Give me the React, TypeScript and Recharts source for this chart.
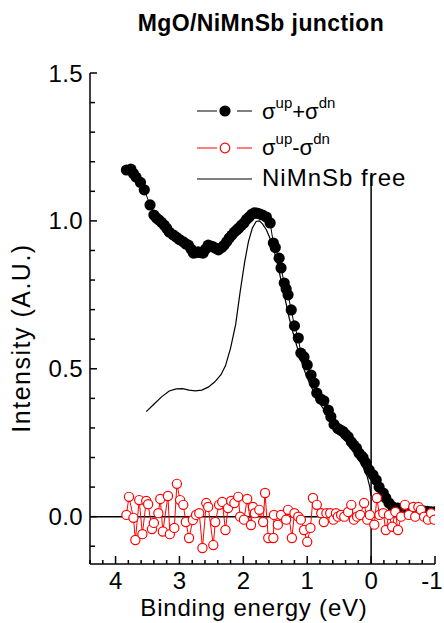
import React from 'react';
import { ScatterChart, Scatter, XAxis, YAxis, Legend } from 'recharts';

// ---- data ----
const sumData: [number, number][] = [
  [3.83, 1.172], [3.76, 1.175], [3.72, 1.16], [3.68, 1.148], [3.61, 1.13], [3.55, 1.105],
  [3.46, 1.054], [3.40, 1.02], [3.36, 1.01], [3.32, 1.003], [3.28, 0.995], [3.24, 0.986],
  [3.20, 0.975], [3.16, 0.962], [3.10, 0.953], [3.05, 0.945], [3.00, 0.937], [2.94, 0.929],
  [2.90, 0.922], [2.86, 0.918], [2.82, 0.905], [2.78, 0.891], [2.74, 0.893], [2.71, 0.895],
  [2.67, 0.893], [2.63, 0.891], [2.59, 0.905], [2.55, 0.918], [2.51, 0.915], [2.47, 0.912],
  [2.43, 0.907], [2.39, 0.902], [2.34, 0.91], [2.30, 0.918], [2.26, 0.93], [2.22, 0.942],
  [2.18, 0.952], [2.14, 0.962], [2.10, 0.97], [2.07, 0.976], [2.03, 0.985], [1.99, 0.993],
  [1.95, 1.005], [1.91, 1.013], [1.87, 1.022], [1.83, 1.027], [1.79, 1.026], [1.75, 1.024],
  [1.70, 1.02], [1.64, 1.013], [1.58, 0.993], [1.53, 0.925], [1.50, 0.91], [1.44, 0.874],
  [1.41, 0.841], [1.36, 0.79], [1.33, 0.77], [1.30, 0.75], [1.25, 0.699], [1.20, 0.645],
  [1.14, 0.604], [1.10, 0.553], [1.05, 0.54], [1.00, 0.513], [0.94, 0.479], [0.89, 0.452],
  [0.85, 0.418], [0.79, 0.398], [0.74, 0.392], [0.67, 0.36], [0.63, 0.338], [0.58, 0.312],
  [0.52, 0.298], [0.48, 0.293], [0.44, 0.288], [0.40, 0.278], [0.36, 0.27], [0.31, 0.253],
  [0.27, 0.242], [0.23, 0.232], [0.19, 0.215], [0.15, 0.205], [0.125, 0.199], [0.08, 0.182],
  [0.03, 0.158], [-0.03, 0.141], [-0.08, 0.124], [-0.125, 0.10], [-0.19, 0.08], [-0.23, 0.063],
  [-0.28, 0.046], [-0.34, 0.033], [-0.42, 0.029], [-0.47, 0.026], [-0.52, 0.023], [-0.58, 0.025],
  [-0.63, 0.026], [-0.68, 0.024], [-0.73, 0.023], [-0.78, 0.021], [-0.83, 0.019], [-0.88, 0.018],
  [-0.94, 0.016], [-1.0, 0.016],
];

const diffData: [number, number][] = [
  [3.83, 0.006], [3.79, 0.067], [3.72, -0.004], [3.69, -0.079], [3.63, 0.056], [3.58, -0.059],
  [3.52, 0.053], [3.49, 0.042], [3.43, -0.042], [3.40, -0.021], [3.33, 0.012], [3.30, 0.06],
  [3.26, -0.05], [3.18, 0.07], [3.15, -0.059], [3.08, -0.038], [3.04, 0.111], [2.99, 0.056],
  [2.94, 0.04], [2.90, -0.018], [2.85, -0.072], [2.79, -0.011], [2.74, 0.006], [2.69, 0.012],
  [2.64, -0.106], [2.58, 0.046], [2.55, 0.033], [2.47, -0.096], [2.44, -0.018], [2.38, 0.04],
  [2.33, 0.05], [2.28, -0.045], [2.24, 0.029], [2.19, 0.053], [2.14, 0.046], [2.08, 0.067],
  [2.05, 0.0], [1.99, -0.01], [1.94, 0.06], [1.88, -0.028], [1.85, 0.033], [1.82, 0.012],
  [1.75, 0.023], [1.69, -0.018], [1.66, 0.08], [1.61, -0.072], [1.53, -0.072], [1.52, 0.006],
  [1.46, -0.027], [1.41, 0.006], [1.33, -0.01], [1.30, 0.023], [1.24, -0.072], [1.20, 0.012],
  [1.14, 0.0], [1.10, -0.01], [1.05, -0.045], [1.00, -0.085], [0.95, -0.038], [0.91, 0.063],
  [0.85, 0.04], [0.78, 0.012], [0.74, -0.018], [0.70, 0.012], [0.64, 0.012], [0.59, -0.01],
  [0.55, 0.012], [0.52, 0.0], [0.47, 0.006], [0.42, 0.0], [0.36, 0.016], [0.31, 0.04],
  [0.27, -0.01], [0.22, 0.0], [0.17, 0.006], [0.11, 0.046], [0.06, -0.01], [0.02, 0.006],
  [-0.05, -0.027], [-0.09, 0.063], [-0.13, 0.006], [-0.19, 0.012], [-0.23, -0.045], [-0.28, 0.006],
  [-0.33, -0.034], [-0.38, 0.016], [-0.42, -0.045], [-0.47, 0.0], [-0.53, 0.04], [-0.59, 0.006],
  [-0.66, 0.033], [-0.69, 0.0], [-0.74, 0.033], [-0.78, 0.023], [-0.83, 0.0], [-0.89, -0.01],
  [-0.94, 0.012], [-0.99, -0.01],
];

const freeData: [number, number][] = [
  [3.52, 0.355], [3.40, 0.38], [3.28, 0.405], [3.16, 0.425], [3.05, 0.432], [2.95, 0.433],
  [2.85, 0.428], [2.75, 0.425], [2.65, 0.428], [2.55, 0.438], [2.45, 0.455], [2.35, 0.48],
  [2.28, 0.51], [2.20, 0.57], [2.12, 0.65], [2.05, 0.76], [1.98, 0.86], [1.92, 0.93],
  [1.86, 0.975], [1.80, 0.998], [1.75, 1.0], [1.70, 0.99], [1.64, 0.97], [1.58, 0.94],
  [1.52, 0.90], [1.46, 0.85], [1.40, 0.79], [1.34, 0.73], [1.28, 0.67], [1.22, 0.62],
  [1.16, 0.575], [1.10, 0.53], [1.02, 0.48], [0.94, 0.44], [0.86, 0.405], [0.78, 0.375],
  [0.70, 0.35], [0.60, 0.32], [0.50, 0.29], [0.40, 0.26], [0.30, 0.23], [0.20, 0.195],
  [0.12, 0.165], [0.06, 0.135], [0.02, 0.10], [0.0, 0.07],
];

const zeroLine: [number, number][] = [[4.4, 0], [-1, 0]];
const fermiLine: [number, number][] = [[0, -0.16], [0, 1.155]];

const xDomain = [-1, 4.4];
const yDomain = [-0.16, 1.5];
const xTicks = [4.4, 4.2, 4.0, 3.8, 3.6, 3.4, 3.2, 3.0, 2.8, 2.6, 2.4, 2.2, 2.0, 1.8, 1.6, 1.4, 1.2, 1.0,
  0.8, 0.6, 0.4, 0.2, 0.0, -0.2, -0.4, -0.6, -0.8, -1.0];
const xMajor = [4, 3, 2, 1, 0, -1];
const yTicks = [-0.1, 0.0, 0.1, 0.2, 0.3, 0.4, 0.5, 0.6, 0.7, 0.8, 0.9, 1.0, 1.1, 1.2, 1.3, 1.4, 1.5];
const yMajor = [0, 0.5, 1.0, 1.5];

const toPts = (d: [number, number][]) => d.map(([x, y]) => ({ x, y }));

const FONT = '"Liberation Sans", Arial, Helvetica, sans-serif';
const TICK_FS = 24;
const isIn = (arr: number[], v: number) => arr.some((a) => Math.abs(a - v) < 1e-6);

const BottomTick = (props: any) => {
  const { x, y, payload } = props;
  const v = payload.value;
  const major = isIn(xMajor, v);
  const ay = y - 9;
  const label = String(Math.round(v));
  return (
    <g>
      <line x1={x} x2={x} y1={ay} y2={ay - (major ? 8 : 4)} stroke="#000" strokeWidth={1.5} />
      {major && (
        <text x={v < -0.5 ? x - 3 : x} y={ay + 25} textAnchor="middle" fontSize={TICK_FS} fontFamily={FONT} fill="#000">
          {label}
        </text>
      )}
    </g>
  );
};

const TopTick = (props: any) => {
  const { x, y, payload } = props;
  const major = isIn(xMajor, payload.value);
  return <line x1={x} x2={x} y1={y} y2={y + (major ? 8 : 4)} stroke="#000" strokeWidth={1.5} />;
};

const LeftTick = (props: any) => {
  const { x, y, payload } = props;
  const v = payload.value;
  const major = isIn(yMajor, v);
  const ax = x + 7;
  return (
    <g>
      <line x1={ax} x2={ax + (major ? 7 : 5)} y1={y} y2={y} stroke="#000" strokeWidth={1.5} />
      {major && (
        <text x={x} y={y + 8.5} textAnchor="end" fontSize={TICK_FS} fontFamily={FONT} fill="#000" letterSpacing={0.4}>
          {v.toFixed(1)}
        </text>
      )}
    </g>
  );
};

const RightTick = (props: any) => {
  const { x, y, payload } = props;
  const major = isIn(yMajor, payload.value);
  return <line x1={x} x2={x - (major ? 7 : 5)} y1={y} y2={y} stroke="#000" strokeWidth={1.5} />;
};

const Dot = (props: any) => <circle cx={props.cx} cy={props.cy} r={5.6} fill="#000" />;
const OpenDot = (props: any) => (
  <circle cx={props.cx} cy={props.cy} r={4.6} fill="#fff" stroke="#ff0000" strokeWidth={1.2} />
);
const NoDot = () => <g />;

const LegendBox = () => (
  <svg width={250} height={110} style={{ overflow: 'visible' }}>
    <g fontFamily={FONT} fill="#000">
      <line x1={7} x2={27} y1={21} y2={21} stroke="#000" strokeWidth={1} />
      <circle cx={35} cy={21} r={5.6} fill="#000" />
      <line x1={47} x2={62} y1={21} y2={21} stroke="#000" strokeWidth={1} />
      <text x={72} y={29} fontSize={22}>
        σ<tspan fontSize={15} dy={-11}>up</tspan><tspan fontSize={22} dy={11}>+σ</tspan>
        <tspan fontSize={15} dy={-11}>dn</tspan>
      </text>

      <line x1={7} x2={27} y1={58} y2={58} stroke="#ff0000" strokeWidth={1} />
      <circle cx={35} cy={58} r={4.8} fill="#fff" stroke="#ff0000" strokeWidth={1.2} />
      <line x1={47} x2={62} y1={58} y2={58} stroke="#ff0000" strokeWidth={1} />
      <text x={72} y={65} fontSize={22}>
        σ<tspan fontSize={15} dy={-11}>up</tspan><tspan fontSize={22} dy={11}>-σ</tspan>
        <tspan fontSize={15} dy={-11}>dn</tspan>
      </text>

      <line x1={7} x2={62} y1={89} y2={89} stroke="#000" strokeWidth={1} />
      <text x={72} y={96} fontSize={24} letterSpacing={1}>NiMnSb free</text>
    </g>
  </svg>
);

export default function App() {
  return (
    <div style={{ position: 'absolute', left: 0, top: 0, width: 444, height: 623, background: '#fff' }}>
      <ScatterChart width={444} height={623} margin={{ top: 73, right: 9, bottom: 29, left: 30 }}>
        <XAxis
          xAxisId="b"
          type="number"
          dataKey="x"
          domain={xDomain}
          reversed
          allowDataOverflow
          ticks={xTicks}
          interval={0}
          tickSize={0}
          tickMargin={9}
          height={30}
          tick={<BottomTick />}
          tickLine={false}
          axisLine={{ stroke: '#000', strokeWidth: 1.5 }}
        />
        <XAxis
          xAxisId="t"
          orientation="top"
          type="number"
          dataKey="x"
          domain={xDomain}
          reversed
          allowDataOverflow
          ticks={xTicks}
          interval={0}
          tickSize={0}
          tickMargin={0}
          height={0}
          tick={<TopTick />}
          tickLine={false}
          axisLine={{ stroke: '#000', strokeWidth: 1.5 }}
        />
        <YAxis
          yAxisId="l"
          type="number"
          dataKey="y"
          domain={yDomain}
          allowDataOverflow
          ticks={yTicks}
          interval={0}
          tickSize={0}
          tickMargin={7}
          width={60}
          tick={<LeftTick />}
          tickLine={false}
          axisLine={{ stroke: '#000', strokeWidth: 1.5 }}
        />
        <YAxis
          yAxisId="r"
          orientation="right"
          type="number"
          dataKey="y"
          domain={yDomain}
          allowDataOverflow
          ticks={yTicks}
          interval={0}
          tickSize={0}
          tickMargin={0}
          width={0}
          tick={<RightTick />}
          tickLine={false}
          axisLine={{ stroke: '#000', strokeWidth: 1.5 }}
        />
        <Scatter xAxisId="b" yAxisId="l" data={toPts(zeroLine)} line={{ stroke: '#000', strokeWidth: 1.5 }} shape={NoDot} isAnimationActive={false} />
        <Scatter xAxisId="b" yAxisId="l" data={toPts(fermiLine)} line={{ stroke: '#000', strokeWidth: 1.5 }} shape={NoDot} isAnimationActive={false} />
        <Scatter xAxisId="b" yAxisId="l" data={toPts(freeData)} line={{ stroke: '#000', strokeWidth: 1.2 }} shape={NoDot} isAnimationActive={false} />
        <Scatter xAxisId="b" yAxisId="l" data={toPts(sumData)} line={{ stroke: '#000', strokeWidth: 1 }} shape={Dot} isAnimationActive={false} />
        <Scatter xAxisId="b" yAxisId="l" data={toPts(diffData)} line={{ stroke: '#ff0000', strokeWidth: 1 }} shape={OpenDot} isAnimationActive={false} />
        <Legend
          layout="horizontal"
          verticalAlign="middle"
          align="center"
          content={() => <LegendBox />}
          wrapperStyle={{ left: 190, top: 90, width: 250, height: 110 }}
        />
        <text x={261} y={31} textAnchor="middle" fontSize={23} fontWeight="bold" fontFamily={FONT} fill="#000" letterSpacing={0.4}>
          MgO/NiMnSb junction
        </text>
        <text x={254} y={616} textAnchor="middle" fontSize={24} fontFamily={FONT} fill="#000" letterSpacing={0.8}>
          Binding energy (eV)
        </text>
        <text
          x={0}
          y={0}
          transform="translate(30,338) rotate(-90)"
          textAnchor="middle"
          fontSize={25}
          fontFamily={FONT}
          fill="#000"
          letterSpacing={1.5}
        >
          Intensity (A.U.)
        </text>
      </ScatterChart>
    </div>
  );
}
